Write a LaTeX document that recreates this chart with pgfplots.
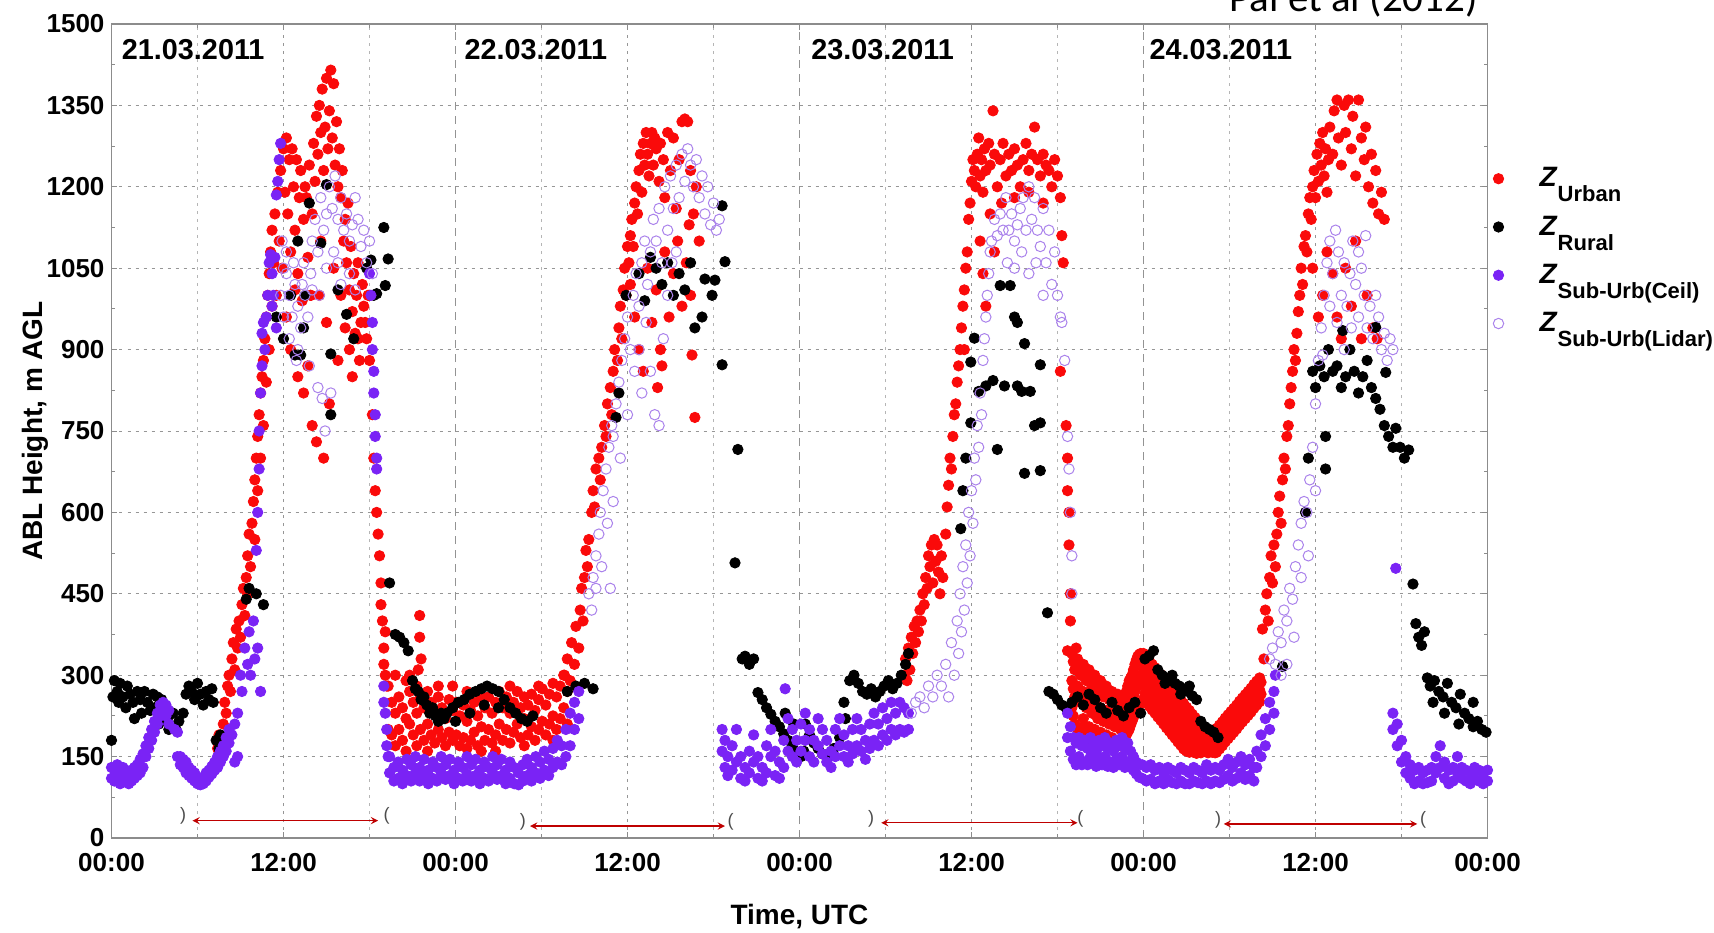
\documentclass[border=0pt]{standalone}
\usepackage{pgfplots}
\pgfplotsset{compat=1.18}
\usepackage{fontspec}
\setmainfont{Liberation Sans}
\newfontfamily\calibri{Carlito}
\usetikzlibrary{calc}
\definecolor{urb}{RGB}{250,10,10}
\definecolor{cei}{RGB}{122,35,245}
\definecolor{lid}{RGB}{170,130,235}
\definecolor{gridc}{RGB}{150,150,150}
\tikzset{brk/.style={font=\fontsize{9}{9}\selectfont, text=black!70, inner sep=0pt}}
\newcommand{\lz}[1]{{\fontsize{14}{15}\selectfont\textbf{\textit{Z}}}\raisebox{-7.5pt}{\bfseries\fontsize{11}{12}\selectfont #1}}
\begin{document}
\begin{tikzpicture}
\begin{axis}[name=ax,
  width=688pt, height=407pt, scale only axis,
  xmin=0, xmax=96, ymin=0, ymax=1500,
  xtick={0,12,36,60,84,96},
  xticklabels={00:00,12:00,12:00,12:00,12:00,00:00},
  extra x ticks={24,48,72},
  extra x tick labels={00:00,00:00,00:00},
  extra x tick style={major grid style={draw=gray!85, dash pattern=on 4pt off 3pt, line width=0.6pt}},
  minor xtick={6,18,30,42,54,66,78,90},
  ytick={0,150,...,1500},
  minor y tick num=1,
  xmajorgrids=true, xminorgrids=true, ymajorgrids=true,
  major grid style={draw=gridc, dash pattern=on 1.5pt off 2.5pt, line width=0.5pt},
  minor grid style={draw=gridc!70, dash pattern=on 1.5pt off 2.5pt, line width=0.5pt},
  axis line style={draw=gray!90, line width=0.7pt},
  tick style={draw=gray!90, line width=0.5pt},
  major tick length=3pt, minor tick length=2pt,
  tick align=inside,
  /pgf/number format/assume math mode=true,
  /pgf/number format/1000 sep={},
  tick label style={font=\bfseries\fontsize{13}{15}\selectfont},
  xticklabel style={yshift=-4pt},
  xlabel={Time, UTC}, ylabel={ABL Height, m AGL},
  label style={font=\bfseries\fontsize{14}{16}\selectfont},
  xlabel style={at={(axis description cs:0.5,-0.096)}, anchor=center},
  ylabel style={at={(axis description cs:-0.0556,0.5)}, anchor=center},
  legend style={at={(axis description cs:1.0,0.829)}, xshift=2.7pt, anchor=north west, draw=none, fill=none,
    row sep=9pt, inner sep=0pt, /tikz/every odd column/.append style={column sep=16pt}},
  legend cell align=left,
  legend image code/.code={\draw[mark repeat=2,mark phase=2] plot coordinates {(0cm,0cm)(0.22cm,0cm)(0.44cm,0cm)};},
  clip mode=individual,
]
% Z Urban
\addplot[only marks, mark=*, mark size=2.6pt, color=urb] coordinates {
(7.4,165)(7.5,190)(7.7,175)(7.8,210)(7.9,250)(8.0,230)(8.1,280)(8.2,300)(8.3,270)(8.4,330)(8.5,360)(8.6,310)(8.7,385)(8.8,350)(8.9,400)(9.0,370)(9.1,430)(9.2,460)(9.3,410)(9.4,480)(9.5,520)(9.5,450)(9.6,560)(9.7,500)(9.8,580)(9.9,620)(10.0,550)(10.0,660)(10.1,700)(10.2,640)(10.2,740)(10.3,780)(10.4,700)(10.4,820)(10.5,850)(10.6,760)(10.6,880)(10.7,920)(10.8,840)(10.8,960)(10.9,1000)(11.0,900)(11.0,1040)(11.1,1080)(11.2,980)(11.2,1120)(11.3,1060)(11.4,1150)(11.5,1000)(11.6,1190)(11.7,1100)(11.8,1230)(11.9,1050)(12.0,1270)(12.1,1190)(12.2,1290)(12.3,1150)(12.4,1250)(12.5,1080)(12.6,1270)(12.7,1200)(12.8,1120)(12.9,1250)(13.0,1040)(13.1,1180)(13.2,1230)(13.3,990)(13.4,1140)(13.5,1200)
(13.6,1180)(13.7,1070)(13.8,1240)(13.9,1000)(14.0,1150)(14.1,1280)(14.2,1210)(14.3,1330)(14.4,1260)(14.5,1350)(14.6,1300)(14.7,1380)(14.8,1230)(14.9,1310)(15.0,1400)(15.1,1270)(15.2,1340)(15.3,1415)(15.4,1290)(15.5,1390)(15.6,1240)(15.7,1320)(15.8,1200)(15.9,1270)(16.0,1180)(16.1,1230)(16.2,1100)(16.3,1140)(16.4,1060)(16.5,1170)(16.6,1010)(16.7,1090)(16.8,970)(16.9,1040)(17.0,930)(17.1,1000)(17.2,1060)(17.4,950)(17.5,1020)(17.6,980)(17.8,920)(17.9,1000)
(12.5,900)(13.0,850)(13.4,820)(14.0,760)(14.3,730)(14.8,700)(15.2,800)(15.8,880)(16.3,940)(16.8,850)(17.3,880)(13.7,870)(12.2,960)(14.5,1000)(15.0,950)(15.5,1050)(16.0,1000)(16.6,900)(17.2,920)(12.8,1010)(13.9,1000)(14.6,1100)(17.7,950)(18.0,1000)
(18.0,880)(18.2,780)(18.3,700)(18.4,640)(18.5,600)(18.6,560)(18.7,520)(18.8,470)(18.8,430)(18.9,400)(19.0,350)(19.0,320)(19.1,300)(19.1,380)(19.2,280)(21.4,310)(21.5,410)(21.5,370)(21.6,330)(20.8,300)
(19.3,280)(19.3,200)(19.55,250)(19.55,190)(19.8,300)(19.8,230)(19.8,170)(20.05,260)(20.05,200)(20.3,240)(20.3,180)(20.55,290)(20.55,220)(20.55,160)(20.8,270)(20.8,210)(21.05,250)(21.05,190)(21.3,230)(21.3,170)(21.3,280)(21.55,260)(21.55,200)(21.8,240)(21.8,180)(22.05,270)(22.05,210)(22.05,160)(22.3,250)(22.3,190)(22.55,230)(22.55,175)(22.8,260)(22.8,200)(22.8,280)(23.05,240)(23.05,185)(23.3,220)(23.3,170)(23.55,255)(23.55,195)(23.8,235)(23.8,180)(23.8,280)
(24.05,250)(24.05,190)(24.3,225)(24.3,170)(24.55,245)(24.55,185)(24.8,215)(24.8,165)(24.8,270)(25.05,235)(25.05,180)(25.3,250)(25.3,195)(25.55,225)(25.55,170)(25.8,205)(25.8,160)(25.8,260)(26.05,240)(26.05,180)(26.3,260)(26.3,200)(26.55,230)(26.55,175)(26.8,250)(26.8,190)(26.8,160)(27.05,270)(27.05,210)(27.3,240)(27.3,180)(27.55,260)(27.55,200)(27.8,230)(27.8,175)(27.8,280)(28.05,250)(28.05,195)(28.3,270)(28.3,210)(28.55,240)(28.55,185)(28.8,220)(28.8,170)(28.8,260)(29.05,245)(29.05,190)(29.3,265)(29.3,205)(29.55,235)(29.55,180)(29.8,255)(29.8,200)(29.8,280)(30.05,275)(30.05,215)(30.3,245)(30.3,190)(30.55,265)(30.55,210)(30.8,285)(30.8,225)(30.8,180)(31.05,260)(31.05,200)(31.3,280)(31.3,220)(31.55,300)(31.55,240)(31.8,270)(31.8,210)
(31.6,300)(31.8,330)(32.0,290)(32.1,360)(32.3,320)(32.4,390)(32.6,350)(32.7,420)(32.8,460)(32.9,400)(33.0,480)(33.1,530)(33.2,500)(33.3,550)(33.5,600)(33.6,640)(33.7,610)(33.8,680)(34.0,700)(34.1,660)(34.2,720)(34.4,760)(34.5,740)(34.6,800)(34.8,830)(34.9,780)(35.0,860)(35.1,900)(35.3,880)(35.4,940)(35.5,980)(35.6,920)(35.7,1010)(35.8,1050)(35.9,1000)(36.0,1090)(36.1,1060)(36.2,1110)(36.3,1140)(36.4,1090)(36.5,1170)(36.6,1200)(36.7,1150)(36.8,1230)(36.9,1260)(37.0,1190)(37.1,1280)(37.2,1240)(37.3,1300)(37.4,1260)(37.5,1220)(37.6,1280)(37.7,1300)(37.8,1240)(37.9,1290)(38.0,1270)(38.2,1210)(38.3,1280)(38.5,1250)(38.6,1180)(38.8,1300)(39.0,1230)(39.2,1290)(39.4,1160)(39.6,1250)(39.8,1320)(40.0,1325)(40.2,1320)(40.4,1230)(40.6,1150)(40.8,1200)(41.0,1100)
(36.2,1020)(36.5,960)(36.8,900)(37.1,860)(37.4,1050)(37.7,950)(38.0,1010)(38.3,900)(38.6,1080)(38.9,960)(39.2,1040)(39.5,1100)(39.8,980)(40.1,1060)(40.4,1000)(40.5,890)(40.7,775)(40.3,1130)(38.1,830)(38.4,870)
(55.3,300)(55.4,330)(55.5,290)(55.6,350)(55.7,310)(55.8,370)(55.9,340)(56.0,390)(56.1,360)(56.2,400)(56.3,380)(56.4,420)(56.5,400)(56.6,450)(56.7,430)(56.8,480)(56.9,460)(57.0,520)(57.1,500)(57.2,540)(57.3,470)(57.4,550)(57.5,510)(57.6,540)(57.7,490)(57.8,450)(57.9,520)(58.0,480)(58.2,560)(58.3,610)(58.4,650)(58.5,700)(58.6,680)(58.7,740)(58.8,780)(58.9,800)(59.0,840)(59.1,870)(59.2,900)(59.3,940)(59.4,980)(59.5,1010)(59.6,1050)(59.7,1080)(59.8,1140)(59.9,1170)(60.0,1210)(60.1,1250)(60.2,1230)(60.3,1200)(60.4,1260)(60.5,1290)(60.6,1220)(60.7,1250)(60.8,1190)(60.9,1270)(61.0,1230)(61.2,1280)(61.3,1240)(61.5,1340)(61.6,1260)(61.8,1200)(62.0,1250)(62.2,1280)(62.4,1220)(62.6,1260)(62.8,1230)(63.0,1270)(63.2,1240)(63.4,1200)(63.6,1250)(63.8,1280)(64.0,1230)(64.2,1260)(64.4,1310)(64.6,1250)(64.8,1220)(65.0,1260)(65.2,1240)(65.4,1230)(65.6,1200)(65.8,1250)(66.0,1220)(66.2,1180)(66.3,1110)(66.4,1060)(66.2,860)
(59.5,900)(60.6,1100)(60.8,1040)(61.0,980)(61.3,1150)(61.6,1080)(62.1,1170)(63.0,1180)(64.0,1190)(65.0,1170)
(66.6,760)(66.7,700)(66.7,640)(66.8,600)(66.8,540)(66.9,450)(66.9,400)(66.7,345)(67.3,350)
(67.0,340)(67.0,290)(67.0,240)(67.2,310)(67.2,260)(67.2,210)(67.4,330)(67.4,280)(67.4,200)(67.6,300)(67.6,250)(67.6,185)(67.8,320)(67.8,270)(67.8,220)(68.0,290)(68.0,240)(68.0,190)(68.2,310)(68.2,260)(68.2,205)(68.4,280)(68.4,230)(68.4,180)(68.6,300)(68.6,250)(68.6,200)(68.8,270)(68.8,220)(68.8,175)(69.0,290)(69.0,240)(69.0,195)(69.2,260)(69.2,215)(69.2,180)(69.4,280)(69.4,235)(69.4,190)(69.6,255)(69.6,210)(69.6,175)(69.8,270)(69.8,230)(69.8,185)(70.0,250)(70.0,205)(70.0,170)(70.2,265)(70.2,220)(70.2,180)(70.4,240)(70.4,200)(70.4,170)(70.6,255)(70.6,215)(70.6,175)(70.8,270)(70.8,225)(70.8,190)(71.0,290)(71.0,240)(71.0,200)(71.2,300)(71.2,255)(71.2,215)(71.4,320)(71.4,270)(71.4,230)(71.6,335)(71.6,285)(71.6,240)(71.8,340)(71.8,300)(71.8,250)
(67.1,325)(67.1,275)(67.1,225)(67.3,320)(67.3,270)(67.3,205)(67.5,315)(67.5,265)(67.5,192)(67.7,310)(67.7,260)(67.7,203)(67.9,305)(67.9,255)(67.9,205)(68.1,300)(68.1,250)(68.1,198)(68.3,295)(68.3,245)(68.3,193)(68.5,290)(68.5,240)(68.5,190)(68.7,285)(68.7,235)(68.7,188)(68.9,280)(68.9,230)(68.9,185)(69.1,275)(69.1,228)(69.1,188)(69.3,270)(69.3,225)(69.3,185)(69.5,268)(69.5,222)(69.5,182)(69.7,262)(69.7,220)(69.7,180)(69.9,260)(69.9,218)(69.9,178)(70.1,258)(70.1,212)(70.1,175)(70.3,252)(70.3,210)(70.3,175)(70.5,248)(70.5,208)(70.5,172)(70.7,262)(70.7,220)(70.7,182)(70.9,280)(70.9,232)(70.9,195)(71.1,295)(71.1,248)(71.1,208)(71.3,310)(71.3,262)(71.3,222)(71.5,328)(71.5,278)(71.5,235)(71.7,338)(71.7,292)(71.7,245)
(72.0,340)(72.0,312)(72.0,284)(72.0,256)(72.1,323)(72.1,295)(72.1,267)(72.2,333)(72.2,305)(72.2,277)(72.2,249)(72.3,316)(72.3,288)(72.3,260)(72.4,327)(72.4,299)(72.4,271)(72.4,243)(72.5,310)(72.5,282)(72.5,254)(72.6,320)(72.6,292)(72.6,264)(72.6,236)(72.7,303)(72.7,275)(72.7,247)(72.8,314)(72.8,286)(72.8,258)(72.8,230)(72.9,297)(72.9,269)(72.9,241)
(73.0,307)(73.0,279)(73.0,251)(73.0,223)(73.1,290)(73.1,262)(73.1,234)(73.2,301)(73.2,273)(73.2,245)(73.2,217)(73.3,284)(73.3,256)(73.3,228)(73.4,294)(73.4,266)(73.4,238)(73.4,210)(73.5,277)(73.5,249)(73.5,221)(73.6,287)(73.6,259)(73.6,231)(73.6,203)(73.7,270)(73.7,242)(73.7,214)(73.8,281)(73.8,253)(73.8,225)(73.8,197)(73.9,264)(73.9,236)(73.9,208)
(74.0,274)(74.0,246)(74.0,218)(74.0,190)(74.1,257)(74.1,229)(74.1,201)(74.2,268)(74.2,240)(74.2,212)(74.2,184)(74.3,251)(74.3,223)(74.3,195)(74.4,261)(74.4,233)(74.4,205)(74.4,177)(74.5,244)(74.5,216)(74.5,188)(74.6,255)(74.6,227)(74.6,199)(74.6,171)(74.7,238)(74.7,210)(74.7,182)(74.8,248)(74.8,220)(74.8,192)(74.8,164)(74.9,231)(74.9,203)(74.9,175)
(75.0,241)(75.0,213)(75.0,185)(75.0,160)(75.1,224)(75.1,196)(75.1,168)(75.2,235)(75.2,207)(75.2,179)(75.2,158)(75.3,218)(75.3,190)(75.3,162)(75.4,228)(75.4,200)(75.4,172)(75.5,211)(75.5,183)(75.5,158)(75.6,222)(75.6,194)(75.6,166)(75.7,205)(75.7,177)(75.7,156)(75.8,215)(75.8,187)(75.8,160)(75.9,198)(75.9,170)
(76.0,209)(76.0,181)(76.0,157)(76.1,192)(76.1,165)(76.2,202)(76.2,174)(76.3,185)(76.3,160)(76.4,196)(76.4,168)(76.5,179)(76.5,157)(76.6,189)(76.6,162)(76.7,172)(76.8,182)(76.8,158)(76.9,166)(77.0,176)(77.0,157)
(77.1,158)(77.1,180)(77.1,202)(77.2,172)(77.2,194)(77.3,164)(77.3,186)(77.3,208)(77.4,178)(77.4,200)(77.5,170)(77.5,192)(77.5,214)(77.6,184)(77.6,206)(77.7,177)(77.7,199)(77.7,221)(77.8,191)(77.8,213)(77.9,183)(77.9,205)(77.9,227)(78.0,197)(78.0,219)
(78.1,189)(78.1,211)(78.1,233)(78.2,203)(78.2,225)(78.3,195)(78.3,217)(78.3,239)(78.4,209)(78.4,231)(78.5,201)(78.5,223)(78.5,245)(78.6,215)(78.6,237)(78.7,208)(78.7,230)(78.7,252)(78.8,222)(78.8,244)(78.9,214)(78.9,236)(78.9,258)(79.0,228)(79.0,250)
(79.1,220)(79.1,242)(79.1,264)(79.2,234)(79.2,256)(79.3,226)(79.3,248)(79.3,270)(79.4,240)(79.4,262)(79.5,232)(79.5,254)(79.5,276)(79.6,246)(79.6,268)(79.7,239)(79.7,261)(79.7,283)(79.8,253)(79.8,275)(79.9,245)(79.9,267)(79.9,289)(80.0,259)(80.0,281)(80.1,251)(80.1,273)(80.1,295)(80.2,265)(80.2,287)
(80.3,385)(80.4,330)(80.5,420)(80.6,450)(80.7,400)(80.8,480)(80.9,520)(81.0,470)(81.1,540)(81.2,500)(81.3,560)(81.4,600)(81.5,630)(81.6,580)(81.7,660)(81.8,700)(81.9,680)(82.0,740)(82.1,760)(82.2,800)(82.3,830)(82.4,860)(82.5,900)(82.6,880)(82.7,930)(82.8,970)(82.9,1000)(83.0,1050)(83.1,1020)(83.2,1090)(83.3,1110)(83.4,1080)(83.5,1150)(83.6,1180)(83.7,1140)(83.8,1200)(83.9,1230)(84.0,1180)(84.1,1260)(84.2,1210)(84.3,1280)(84.4,1240)(84.5,1300)(84.6,1220)(84.7,1270)(84.8,1190)(84.9,1250)(85.0,1310)(85.2,1260)(85.3,1340)(85.5,1360)(85.6,1290)(85.8,1240)(86.0,1350)(86.1,1300)(86.3,1360)(86.5,1270)(86.6,1330)(86.8,1220)(87.0,1360)(87.2,1290)(87.4,1250)(87.5,1310)(87.7,1200)(87.9,1260)(88.0,1170)(88.2,1230)(88.4,1150)(88.6,1190)(88.8,1140)
(84.5,1000)(84.8,1080)(85.2,1040)(85.5,960)(85.8,920)(86.1,1050)(86.5,980)(86.8,1100)(87.2,920)(87.6,1000)(88.0,940)(88.3,920)(84.2,960)(83.8,1050)
};
\addlegendentry{\lz{Urban}}
% Z Rural
\addplot[only marks, mark=*, mark size=2.6pt, color=black] coordinates {
(0.0,180)(0.1,260)(0.2,290)(0.4,270)(0.5,250)(0.6,285)(0.8,260)(1.0,240)(1.1,280)(1.3,265)(1.5,250)(1.6,220)(1.8,270)(2.0,255)(2.1,230)(2.3,270)(2.5,250)(2.7,235)(2.9,265)(3.0,240)(3.2,260)(3.3,210)(3.5,255)(3.7,240)(3.9,220)(4.0,200)(4.3,230)(4.5,200)(4.7,215)(5.0,230)(5.2,265)(5.4,280)(5.6,270)(5.8,255)(6.0,285)(6.2,265)(6.4,245)(6.6,270)(6.8,255)(7.0,275)(7.1,250)(7.3,180)(7.5,165)(7.6,190)
(9.4,440)(9.6,460)(10.1,450)(10.6,430)
(11.5,960)(12.0,920)(12.5,1000)(12.8,890)(13.0,1100)(13.2,890)(13.4,940)(13.5,1000)(13.8,1170)(14.6,1096)(15.0,1204)(15.3,892)(15.3,780)(15.8,1010)(16.4,965)(16.9,920)(17.8,1050)(18.1,1065)(18.3,1000)(18.5,1003)(19.0,1125)(19.1,1018)(19.3,1067)
(19.4,470)(19.8,375)(20.1,370)(20.4,360)(20.7,345)
(21.0,290)(21.2,275)(21.4,270)(21.6,255)(21.8,260)(22.0,245)(22.2,230)(22.4,240)(22.6,225)(22.8,215)(23.0,230)(23.2,220)(23.4,230)(23.8,240)(24.2,250)(24.6,255)(25.0,265)(25.4,270)(25.8,275)(26.2,280)(26.6,275)(27.0,270)(27.4,255)(27.8,240)(28.2,230)(28.6,220)(29.0,215)(29.4,225)(24.0,215)(25.0,230)(26.0,245)(27.0,240)
(31.8,270)(32.4,280)(33.0,285)(33.6,275)
(35.2,775)(35.4,820)(35.9,1000)(36.8,1040)(37.2,990)(37.6,1070)(38.0,1050)(38.4,1020)(38.8,1060)(39.2,1000)(39.6,1040)(40.0,1010)(40.4,1060)(40.7,940)(41.2,960)(41.4,1030)(41.9,1000)(42.1,1028)(42.6,1165)(42.8,1062)(42.6,872)(43.7,716)(43.5,507)
(44.0,330)(44.2,335)(44.5,320)(44.8,330)(45.1,268)(45.4,255)(45.7,240)(46.0,228)(46.3,215)(46.6,205)(46.9,192)(47.2,180)(47.5,168)(47.8,155)(48.1,150)(48.3,160)(47.0,230)(47.6,210)
(48.4,210)(48.7,190)(49.0,175)(49.3,165)(49.6,155)(50.0,150)(50.4,165)(50.8,185)(51.1,250)(51.2,220)(51.5,290)(51.8,300)(52.1,285)(52.4,270)(52.7,265)(53.0,275)(53.3,260)(53.6,270)(53.9,280)(54.2,290)(54.5,275)(54.8,285)(55.1,300)(55.4,320)(55.6,340)
(59.25,570)(59.4,640)(59.6,700)(59.95,765)(59.95,877)(60.2,921)(60.5,823)(61.0,833)(61.5,843)(61.8,716)(62.0,1018)(62.3,833)(62.7,1018)(63.0,960)(63.2,950)(63.2,833)(63.5,823)(63.7,911)(63.7,672)(64.1,823)(64.4,760)(64.8,872)(64.8,765)(64.8,677)
(65.3,415)(65.4,270)(65.7,265)(66.0,255)(66.3,245)(66.6,240)(67.0,250)(67.4,260)(67.8,245)(68.2,265)(68.6,255)(69.0,240)(69.4,230)(69.8,250)(70.2,235)(70.6,225)(71.0,240)(71.4,250)(71.8,230)
(72.1,330)(72.4,336)(72.7,345)(73.0,310)(73.3,300)(73.6,295)(73.9,290)(74.2,285)(74.5,280)(74.8,275)(75.1,270)(75.4,262)(75.7,255)(76.0,215)(76.3,205)(76.6,200)(76.9,195)(77.2,185)(73.5,285)(74.0,300)(74.6,265)(75.2,280)
(81.7,316)(83.3,600)(83.5,700)(84.7,740)(84.7,680)(83.8,860)(84.0,830)(84.3,870)(84.6,850)(84.9,900)(85.2,860)(85.5,870)(85.8,830)(85.9,935)(86.1,850)(86.4,900)(86.7,860)(87.0,820)(87.3,850)(87.6,880)(87.9,830)(88.2,941)(88.2,810)(88.5,790)(88.8,760)(88.9,858)(89.1,740)(89.4,720)(89.6,755)(89.9,720)(90.2,700)(90.5,715)
(90.8,468)(91.0,395)(91.2,370)(91.4,355)(91.6,380)(91.8,295)(92.0,280)(92.3,290)(92.6,270)(92.9,260)(93.2,285)(93.5,250)(93.8,240)(94.1,265)(94.4,230)(94.7,220)(95.0,250)(95.3,215)(95.6,200)(95.9,195)(92.2,250)(93.0,230)(94.0,210)(95.0,205)
};
\addlegendentry{\lz{Rural}}
% Z Sub-Urb (Ceil)
\addplot[only marks, mark=*, mark size=2.6pt, color=cei] coordinates {
(0.0,110)(0.0,130)(0.2,105)(0.2,125)(0.4,110)(0.4,135)(0.6,100)(0.6,120)(0.8,105)(0.8,130)(1.0,110)(1.0,125)(1.2,100)(1.2,120)(1.4,105)(1.4,125)(1.6,110)(1.6,130)(1.8,115)(1.8,135)(2.0,120)(2.0,145)(2.2,130)(2.2,155)(2.4,150)(2.4,170)(2.6,165)(2.6,185)(2.8,180)(2.8,200)(3.0,195)(3.0,215)(3.2,210)(3.2,230)(3.4,225)(3.4,245)(3.6,235)(3.6,250)(3.8,225)(3.8,245)(4.0,210)(4.0,235)(4.4,200)(4.6,195)(4.6,150)(4.8,150)(4.8,135)(5.0,145)(5.0,130)(5.2,140)(5.2,120)(5.4,130)(5.4,115)(5.6,125)(5.6,110)(5.8,120)(5.8,105)(6.0,110)(6.0,100)(6.2,105)(6.2,98)(6.4,100)(6.4,112)(6.6,105)(6.6,120)(6.8,112)(6.8,125)(7.0,118)(7.0,132)(7.2,125)(7.2,140)(7.4,130)(7.4,150)(7.6,140)(7.6,160)(7.8,150)(7.8,170)(8.0,160)(8.0,185)(8.2,175)(8.2,200)(8.4,190)(8.6,210)(8.8,230)(8.6,140)(8.8,150)
(9.0,300)(9.1,270)(9.3,350)(9.5,320)(9.6,380)(9.9,400)(10.2,350)(10.4,270)(9.7,300)(10.0,330)
(10.1,530)(10.2,600)(10.3,680)(10.3,750)(10.4,820)(10.5,870)(10.5,930)(10.6,950)(10.7,900)(10.8,960)(10.9,1000)(11.0,1060)(11.1,1075)(11.2,1040)(11.3,1000)(11.4,1070)(11.5,1185)(11.6,1210)(11.7,1250)(11.8,1280)(11.2,980)(11.5,940)
(18.0,1040)(18.1,1000)(18.2,950)(18.2,900)(18.3,860)(18.3,820)(18.4,780)(18.4,740)(18.5,700)(18.5,680)
(19.0,280)(19.0,250)(19.1,230)(19.2,200)(19.2,170)(19.3,150)
(19.4,150)(19.4,120)(19.7,130)(19.7,105)(20.0,140)(20.0,110)(20.3,125)(20.3,100)(20.6,145)(20.6,115)(20.9,135)(20.9,105)(21.2,150)(21.2,120)(21.5,130)(21.5,105)(21.8,145)(21.8,115)(22.1,125)(22.1,100)(22.4,140)(22.4,110)(22.7,130)(22.7,105)(23.0,150)(23.0,120)(23.3,135)(23.3,108)(23.6,145)(23.6,115)(23.9,125)(23.9,100)(24.2,140)(24.2,110)(24.5,130)(24.5,105)(24.8,150)(24.8,118)(25.1,135)(25.1,105)(25.4,145)(25.4,115)(25.7,125)(25.7,100)(26.0,140)(26.0,110)(26.3,130)(26.3,105)(26.6,150)(26.6,120)(26.9,135)(26.9,108)(27.2,145)(27.2,115)(27.5,125)(27.5,100)(27.8,140)(27.8,110)(28.1,130)(28.1,100)(28.4,120)(28.4,98)(28.7,135)(28.7,105)(29.0,145)(29.0,115)(29.3,130)(29.3,105)(29.6,150)(29.6,120)(29.9,140)(29.9,110)(30.2,160)(30.2,125)(30.5,145)(30.5,115)(30.8,165)(30.8,130)(31.1,180)(31.1,140)(31.4,170)(31.4,135)(31.7,200)(31.7,150)(32.0,230)(32.0,170)(32.3,250)(32.3,200)(32.6,270)(32.6,220)
(42.6,200)(42.6,160)(42.8,180)(42.8,130)(43.0,150)(43.0,115)(43.3,170)(43.3,125)(43.6,200)(43.6,140)(43.9,150)(43.9,110)(44.2,130)(44.2,105)(44.5,160)(44.5,120)(44.8,190)(44.8,140)(45.1,150)(45.1,110)(45.4,130)(45.4,105)(45.7,170)(45.7,120)(46.0,200)(46.0,150)(46.3,160)(46.3,115)(46.6,140)(46.6,110)(46.9,180)(46.9,130)(47.0,275)(47.2,220)(47.2,160)(47.5,200)(47.5,150)(47.8,180)(47.8,140)(48.1,210)(48.1,160)(48.4,230)(48.4,180)(48.7,200)(48.7,150)(49.0,180)(49.0,140)(49.3,220)(49.3,170)(49.6,200)(49.6,155)(49.9,180)(49.9,140)(50.2,160)(50.2,130)(50.5,200)(50.5,150)(50.8,220)(50.8,170)(51.1,190)(51.1,150)(51.4,170)(51.4,140)(51.7,200)(51.7,155)(52.0,220)(52.0,170)(52.3,200)(52.3,160)(52.6,180)(52.6,145)(52.9,210)(52.9,165)(53.2,230)(53.2,180)(53.5,210)(53.5,170)(53.8,240)(53.8,190)(54.1,220)(54.1,180)(54.4,250)(54.4,200)(54.7,230)(54.7,190)(55.0,250)(55.0,200)(55.3,240)(55.3,195)(55.6,230)(55.6,200)
(66.7,230)(66.7,185)(66.9,205)(66.9,160)(67.1,185)(67.1,145)(67.3,175)(67.3,135)(67.5,185)(67.5,150)(67.7,170)(67.7,135)(67.9,180)(67.9,140)(68.1,165)(68.1,135)(68.3,185)(68.3,150)(68.5,175)(68.5,140)(68.7,160)(68.7,132)(68.9,180)(68.9,145)(69.1,170)(69.1,135)(69.3,185)(69.3,150)(69.5,165)(69.5,132)(69.7,175)(69.7,140)(69.9,160)(69.9,130)(70.1,180)(70.1,145)(70.3,170)(70.3,135)(70.5,185)(70.5,150)(70.7,165)(70.7,130)(70.9,175)(70.9,140)(71.1,160)(71.1,130)(71.3,150)(71.3,125)(71.5,140)(71.5,118)(71.7,135)(71.7,112)
(71.9,135)(71.9,110)(72.2,130)(72.2,105)(72.5,135)(72.5,108)(72.8,125)(72.8,100)(73.1,130)(73.1,105)(73.4,120)(73.4,100)(73.7,130)(73.7,108)(74.0,125)(74.0,102)(74.3,120)(74.3,100)(74.6,130)(74.6,105)(74.9,125)(74.9,100)(75.2,120)(75.2,100)(75.5,130)(75.5,105)(75.8,125)(75.8,102)(76.1,120)(76.1,100)(76.4,135)(76.4,105)(76.7,125)(76.7,100)(77.0,130)(77.0,105)(77.3,125)(77.3,102)(77.6,135)(77.6,108)(77.9,145)(77.9,115)(78.2,130)(78.2,105)(78.5,140)(78.5,110)(78.8,150)(78.8,120)(79.1,135)(79.1,108)(79.4,145)(79.4,115)(79.7,130)(79.7,105)(79.9,160)(79.9,130)(80.2,190)(80.2,150)(80.5,220)(80.5,170)(80.8,250)(80.8,200)(81.1,270)(81.1,230)(81.2,300)
(89.4,230)(89.4,200)(89.6,497)(89.7,210)(89.7,170)(90.0,180)(90.0,140)(90.3,150)(90.3,120)(90.6,135)(90.6,110)(90.9,125)(90.9,100)(91.2,130)(91.2,105)(91.5,120)(91.5,100)(91.8,125)(91.8,102)(92.1,130)(92.1,105)(92.4,150)(92.4,120)(92.7,170)(92.7,130)(93.0,140)(93.0,110)(93.3,125)(93.3,100)(93.6,130)(93.6,105)(93.9,150)(93.9,120)(94.2,130)(94.2,110)(94.5,125)(94.5,105)(94.8,120)(94.8,100)(95.1,130)(95.1,110)(95.4,125)(95.4,105)(95.7,120)(95.7,100)(96.0,125)(96.0,105)
};
\addlegendentry{\lz{Sub-Urb(Ceil)}}
% Z Sub-Urb (Lidar)
\addplot[only marks, mark=o, mark size=2.6pt, color=lid, mark options={fill=white, line width=0.5pt}] coordinates {
(11.8,1000)(12.0,960)(12.2,1040)(12.4,1000)(12.6,960)(12.8,1020)(12.4,920)(12.9,880)(13.0,980)(13.2,940)(13.4,1060)(13.5,1000)(13.7,960)(13.9,1040)(14.0,1100)(14.2,1140)(14.4,1080)(14.6,1180)(14.8,1120)(15.0,1150)(15.2,1200)(15.4,1160)(15.6,1220)(15.8,1140)(16.0,1180)(16.2,1120)(16.4,1150)(16.6,1100)(16.8,1130)(17.0,1180)(17.2,1140)(17.4,1090)(17.6,1120)(17.8,1060)(18.0,1100)(18.2,1040)(13.0,900)(13.8,870)(14.4,830)(12.2,1080)(14.5,1000)(15.0,1050)(15.5,1080)(16.0,1020)(14.0,1010)(13.3,1020)(12.7,1060)(12.0,1050)(11.9,1100)(15.8,1060)(16.6,1040)(17.0,1010)(14.7,810)(14.9,750)(15.3,820)
(33.3,450)(33.5,420)(33.6,480)(33.8,520)(34.0,560)(34.1,600)(34.3,640)(34.5,680)(34.7,720)(34.9,760)(35.0,740)(35.2,800)(35.4,840)(35.6,880)(35.8,920)(36.0,960)(36.2,900)(36.4,1000)(36.6,1040)(36.8,980)(37.0,1060)(37.2,1100)(37.4,1020)(37.6,1080)(37.8,1140)(38.0,1100)(38.2,1160)(38.4,1060)(38.6,1200)(38.8,1120)(39.0,1220)(39.2,1160)(39.4,1240)(39.6,1180)(39.8,1260)(40.0,1210)(40.2,1270)(40.4,1240)(40.6,1200)(40.8,1250)(41.0,1180)(41.2,1220)(41.4,1150)(41.6,1200)(41.8,1130)(42.0,1170)(42.2,1120)(42.4,1140)(36.5,860)(36.8,900)(37.0,820)(37.3,950)(37.6,860)(37.9,780)(38.2,760)(38.5,920)(38.8,1000)(39.1,1060)(39.4,1080)(36.0,780)(35.5,700)(35.0,620)(34.6,580)(34.2,500)(33.8,460)(34.8,460)
(55.8,230)(56.1,250)(56.4,260)(56.7,240)(57.0,280)(57.3,260)(57.6,300)(57.9,280)(58.2,320)(58.4,260)(58.6,360)(58.8,300)(59.0,400)(59.1,340)(59.2,450)(59.3,380)(59.4,500)(59.5,420)(59.6,540)(59.7,470)(59.8,600)(59.9,520)(60.0,640)(60.1,580)(60.2,700)(60.3,660)(60.4,760)(60.5,720)(60.6,820)(60.7,780)(60.8,880)(60.9,920)(61.0,960)(61.1,1000)(61.2,1040)(61.3,1080)(61.4,1100)(61.6,1140)(61.8,1110)(62.0,1150)(62.2,1120)
(62.4,1180)(62.6,1120)(62.8,1150)(63.0,1100)(63.2,1130)(63.4,1160)(63.6,1180)(63.8,1120)(64.0,1200)(64.2,1140)(64.4,1180)(64.6,1120)(64.8,1090)(65.0,1160)(65.2,1060)(65.4,1120)(65.6,1020)(65.8,1080)(66.0,1000)(66.2,960)(63.0,1050)(63.5,1080)(64.0,1040)(64.5,1060)(65.0,1000)(62.5,1060)
(66.3,950)(66.5,880)(66.7,740)(66.8,680)(66.9,600)(67.0,520)(67.0,450)
(80.8,330)(81.0,350)(81.2,320)(81.4,380)(81.6,360)(81.8,420)(82.0,400)(82.2,460)(82.4,440)(82.6,500)(82.8,540)(83.0,580)(83.2,620)(83.4,600)(83.6,660)(83.8,720)(84.0,800)(84.2,880)(84.4,940)(84.6,1000)(84.8,1060)(85.0,1100)(85.2,1040)(85.4,1120)(85.6,1080)(85.8,1000)(86.0,1060)(86.2,980)(86.4,1040)(86.6,1100)(86.8,1020)(87.0,960)(87.2,1050)(87.4,1000)(87.6,940)(87.8,980)(88.0,920)(88.2,1000)(88.4,960)(88.6,900)(88.8,930)(89.0,880)(89.2,920)(89.4,900)(85.0,980)(85.5,950)(86.0,900)(86.5,940)(87.0,1080)(87.5,1110)(84.5,890)(83.0,480)(82.0,320)(82.5,370)(83.5,520)(84.0,640)(81.6,300)
};
\addlegendentry{\lz{Sub-Urb(Lidar)}}
% daytime arrows
\addplot[forget plot, red!75!black, line width=0.6pt, <->, >=stealth] coordinates {(5.65,32)(18.6,32)};
\addplot[forget plot, red!75!black, line width=0.6pt, <->, >=stealth] coordinates {(29.2,22)(42.8,22)};
\addplot[forget plot, red!75!black, line width=0.6pt, <->, >=stealth] coordinates {(53.7,28)(67.4,28)};
\addplot[forget plot, red!75!black, line width=0.6pt, <->, >=stealth] coordinates {(77.6,26)(91.1,26)};
\node[brk] at (axis cs:5.0,40) {)};
\node[brk] at (axis cs:19.2,40) {(};
\node[brk] at (axis cs:28.7,30) {)};
\node[brk] at (axis cs:43.2,30) {(};
\node[brk] at (axis cs:53.0,36) {)};
\node[brk] at (axis cs:67.6,36) {(};
\node[brk] at (axis cs:77.2,34) {)};
\node[brk] at (axis cs:91.5,34) {(};
\node[anchor=west, font=\bfseries\fontsize{14.4}{16}\selectfont, inner sep=0pt] at (axis cs:0.7,1453) {21.03.2011};
\node[anchor=west, font=\bfseries\fontsize{14.4}{16}\selectfont, inner sep=0pt] at (axis cs:24.6,1453) {22.03.2011};
\node[anchor=west, font=\bfseries\fontsize{14.4}{16}\selectfont, inner sep=0pt] at (axis cs:48.8,1453) {23.03.2011};
\node[anchor=west, font=\bfseries\fontsize{14.4}{16}\selectfont, inner sep=0pt] at (axis cs:72.4,1453) {24.03.2011};
\end{axis}
\node[anchor=base east, font=\calibri\fontsize{20.5}{22}\selectfont, inner sep=0pt] at ($(ax.north east)+(-4.75pt,6pt)$) {Pal et al (2012)};
\pgfresetboundingbox
\path[use as bounding box] ($(ax.south west)+(-55.75pt,-47pt)$) rectangle ($(ax.north east)+(113.25pt,12pt)$);
\end{tikzpicture}
\end{document}
